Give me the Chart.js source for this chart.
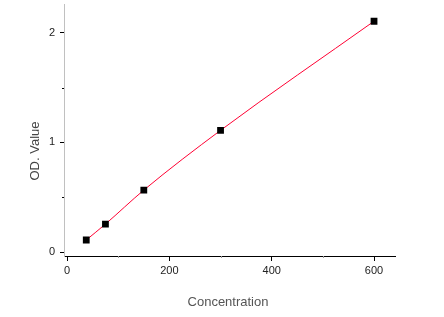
<!DOCTYPE html>
<html><head><meta charset="utf-8">
<script src="https://cdn.jsdelivr.net/npm/chart.js@4"></script>
<style>html,body{margin:0;padding:0;background:#fff}#wrap{width:444px;height:317px}</style>
</head><body><div id="wrap"><canvas id="c" width="444" height="317"></canvas></div>
<script>
const concentrations = [37.5, 75, 150, 300, 600];
const odValues = [0.11, 0.255, 0.565, 1.11, 2.105];
const xTicks = [0, 200, 400, 600];
const yTicks = [0, 1, 2];
const xMinor = [100, 300, 500];
const yMinor = [0.5, 1.5];
const xTitle = 'Concentration';
const yTitle = 'OD. Value';

const points = concentrations.map((x, i) => ({x, y: odValues[i]}));

const minorTicks = {
  id: 'minorTicks',
  afterDraw(chart) {
    const ctx = chart.ctx, xs = chart.scales.x, ys = chart.scales.y;
    ctx.save();
    ctx.strokeStyle = '#999'; ctx.lineWidth = 1;
    xMinor.forEach(v => { const p = Math.round(xs.getPixelForValue(v)) + 0.5;
      ctx.beginPath(); ctx.moveTo(p, xs.top); ctx.lineTo(p, xs.top + 2); ctx.stroke(); });
    ctx.strokeStyle = '#000';
    yMinor.forEach(v => { const p = Math.round(ys.getPixelForValue(v)) + 0.5;
      ctx.beginPath(); ctx.moveTo(ys.right - 2, p); ctx.lineTo(ys.right, p); ctx.stroke(); });
    ctx.fillStyle = '#444';
    ctx.font = '13px "Liberation Sans", Arial, sans-serif';
    ctx.textAlign = 'center'; ctx.textBaseline = 'middle';
    ctx.translate(35, 151); ctx.rotate(-Math.PI / 2);
    ctx.fillText(yTitle, 0, 0);
    ctx.restore();
    ctx.save();
    ctx.fillStyle = '#555';
    ctx.font = '13px "Liberation Sans", Arial, sans-serif';
    ctx.textAlign = 'center'; ctx.textBaseline = 'middle';
    ctx.fillText(xTitle, 228, 302);
    ctx.restore();
  }
};

new Chart(document.getElementById('c'), {
  type: 'scatter',
  data: { datasets: [{
    data: points,
    showLine: true,
    borderColor: '#ff0033',
    borderWidth: 1,
    cubicInterpolationMode: 'monotone',
    pointStyle: 'rect',
    pointRadius: 4.8,
    pointBackgroundColor: '#000',
    pointBorderColor: '#000',
    pointBorderWidth: 0,
  }]},
  options: {
    responsive: false, animation: false,
    layout: { padding: { top: 4, right: 49, left: 0, bottom: 0 } },
    plugins: { legend: { display: false }, tooltip: { enabled: false } },
    scales: {
      x: {
        type: 'linear', min: -6, max: 641,
        afterBuildTicks: s => { s.ticks = xTicks.map(v => ({value: v})); },
        afterFit: s => { s.height = 61; s.paddingLeft = 0; s.paddingRight = 0; },
        border: { color: '#000', width: 1 },
        grid: { drawOnChartArea: false, tickLength: 5, tickColor: '#000' },
        ticks: { color: '#222', padding: 3, font: { size: 11, family: '"Liberation Sans", Arial, sans-serif' } }
      },
      y: {
        type: 'linear', min: -0.036, max: 2.255,
        afterBuildTicks: s => { s.ticks = yTicks.map(v => ({value: v})); },
        afterFit: s => { s.width = 64; s.paddingTop = 0; s.paddingBottom = 0; },
        border: { color: '#c0c0c0', width: 1 },
        grid: { drawOnChartArea: false, tickLength: 4, tickColor: '#000' },
        ticks: { color: '#222', padding: 5, font: { size: 11, family: '"Liberation Sans", Arial, sans-serif' } }
      }
    }
  },
  plugins: [minorTicks]
});
</script>
</body></html>
